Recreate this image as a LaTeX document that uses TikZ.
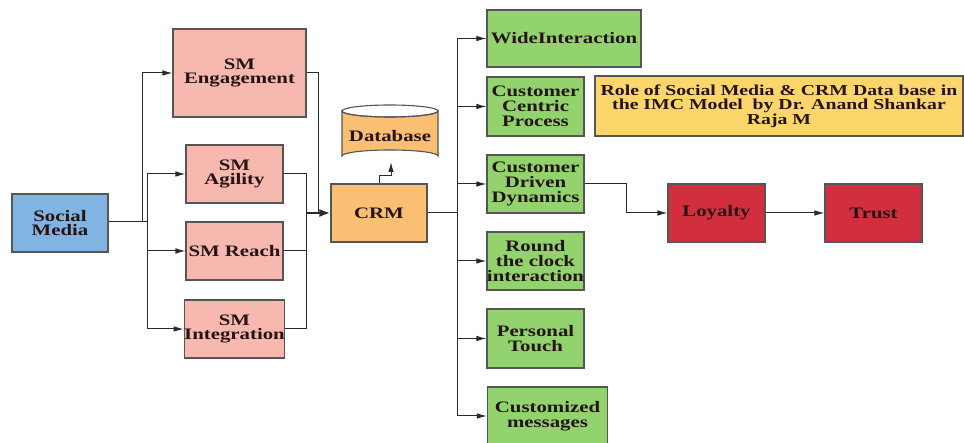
\documentclass[tikz,border=0pt]{standalone}
\usepackage{fontspec}
\setmainfont{Liberation Serif}[FakeStretch=1.30]
\usetikzlibrary{arrows.meta}
\definecolor{cblue}{HTML}{80B4E3}
\definecolor{cpink}{HTML}{F7B9AF}
\definecolor{corange}{HTML}{FBBF74}
\definecolor{cgreen}{HTML}{93D36E}
\definecolor{cyellow}{HTML}{FCD66A}
\definecolor{cred}{HTML}{D22F3E}
\definecolor{cline}{HTML}{2A2A2A}
\definecolor{cborder}{HTML}{555555}
\definecolor{ctext}{HTML}{241414}
\begin{document}
\begin{tikzpicture}[x=1pt,y=-1pt,
  box/.style={draw=cborder,line width=1.1pt,inner sep=0pt,align=center,
    text=ctext,font=\fontsize{16}{14.8}\selectfont\bfseries},
  conn/.style={draw=cline,line width=1pt},
  arr/.style={conn,-{Latex[length=10pt,width=5.5pt]}},
  thickarr/.style={draw=cline,line width=2.6pt,-{Latex[length=11pt,width=8pt]}}]
\useasboundingbox (0,0) rectangle (964,443);
% left nodes
\node[box,fill=cblue,minimum width=96,minimum height=58] (sm) at (60,223) {Social\\Media};
\node[box,fill=cpink,minimum width=133,minimum height=88] (eng) at (239.5,73) {SM\\Engagement};
\node[box,fill=cpink,minimum width=97,minimum height=58] (agi) at (234.5,174) {SM\\Agility};
\node[box,fill=cpink,minimum width=97,minimum height=58] (rea) at (234.5,251) {SM Reach};
\node[box,fill=cpink,minimum width=97,minimum height=58] (int) at (234.5,329) {SM\\Integration};
\node[box,fill=corange,minimum width=96,minimum height=58] (crm) at (379,213) {CRM};
% database cylinder
\filldraw[fill=corange,draw=cborder,line width=1.1pt]
  (342,111) -- (342,156) arc[start angle=180,end angle=360,x radius=48,y radius=6]
  -- (438,111) arc[start angle=0,end angle=180,x radius=48,y radius=6] -- cycle;
\draw[draw=cborder,line width=1.1pt] (390,111) ellipse[x radius=48,y radius=6];
\node[box,draw=none,minimum width=96,minimum height=40] (db) at (390,136) {Database};
\coordinate (dbb) at (391,162);
% right nodes
\node[box,fill=cgreen,minimum width=154,minimum height=57] (wide) at (564,38.5) {WideInteraction};
\node[box,fill=cgreen,minimum width=97,minimum height=59] (ccp) at (535.5,106.5) {Customer\\Centric\\Process};
\node[box,fill=cgreen,minimum width=97,minimum height=58] (cdd) at (535.5,184) {Customer\\Driven\\Dynamics};
\node[box,fill=cgreen,minimum width=97,minimum height=58] (rtc) at (535.5,261) {Round\\the clock\\interaction};
\node[box,fill=cgreen,minimum width=97,minimum height=59] (pt) at (535.5,338.5) {Personal\\Touch};
\node[box,fill=cgreen,minimum width=120,minimum height=58] (cm) at (547.5,416) {Customized\\messages};
\node[box,fill=cyellow,minimum width=368,minimum height=60,
  font=\fontsize{15.2}{14.5}\selectfont\bfseries] (title) at (779,106)
  {Role of Social Media \& CRM Data base in\\the IMC Model\ \ by Dr. Anand Shankar\\Raja M};
\node[box,fill=cred,minimum width=97,minimum height=58] (loy) at (716.5,213) {Loyalty};
\node[box,fill=cred,minimum width=97,minimum height=58] (tru) at (873.5,213) {Trust};
% left connectors
\coordinate (b1) at (142,222);
\coordinate (b2) at (147,222);
\draw[conn] (sm.east |- b2) -- (b2);
\draw[arr] (b1) |- (eng.west);
\draw[arr] (b2) |- (agi.west);
\draw[arr] (b2) |- (rea.west);
\draw[arr] (b2) |- (int.west);
% into CRM
\coordinate (c1) at (318,213);
\coordinate (c2) at (306,213);
\draw[conn] (eng.east) -| (c1);
\draw[conn] (agi.east) -| (c2);
\draw[conn] (rea.east) -| (c2);
\draw[conn] (int.east) -| (c2);
\draw[thickarr] (c2) -- (crm.west);
% CRM to database
\coordinate (d1) at (379,176);
\coordinate (d2) at (391,176);
\draw[conn] (crm.north) -- (d1) -- (d2);
\draw[arr] (d2) -- (dbb);
% CRM to green boxes
\coordinate (r0) at (457,213);
\draw[conn] (crm.east) -- (r0);
\draw[arr] (r0) |- (wide.west);
\draw[arr] (r0) |- (ccp.west);
\draw[arr] (r0) |- (cdd.west);
\draw[arr] (r0) |- (rtc.west);
\draw[arr] (r0) |- (pt.west);
\draw[arr] (r0) |- (cm.west);
% to loyalty and trust
\coordinate (l1) at (626,184);
\draw[arr] (cdd.east) -- (l1) |- (loy.west);
\draw[arr] (loy.east) -- (tru.west);
\end{tikzpicture}
\end{document}
